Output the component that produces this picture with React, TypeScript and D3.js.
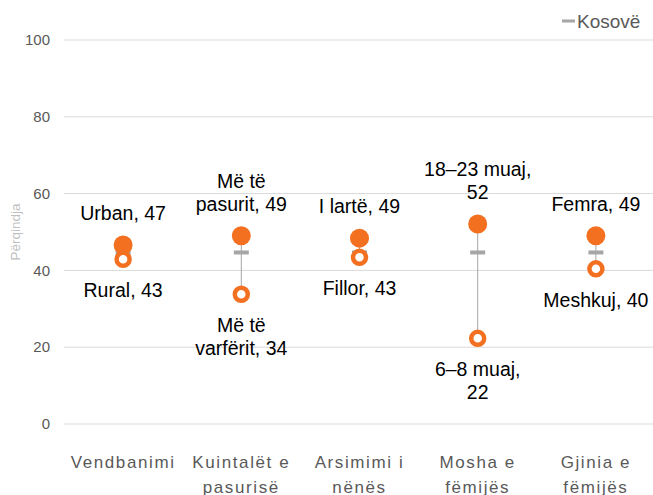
import React from "react";
import * as d3 from "d3";

const categories = [
  "Vendbanimi",
  "Kuintalët e pasurisë",
  "Arsimimi i nënës",
  "Mosha e fëmijës",
  "Gjinia e fëmijës",
];
const categoryLines = [
  ["Vendbanimi"],
  ["Kuintalët e", "pasurisë"],
  ["Arsimimi i", "nënës"],
  ["Mosha e", "fëmijës"],
  ["Gjinia e", "fëmijës"],
];
const highValues = [46.6, 49.0, 48.4, 52.1, 49.0];
const lowValues = [42.9, 33.8, 43.4, 22.3, 40.4];
const kosovoValues = [44.8, 44.8, 44.8, 44.8, 44.8];
const highLabels = [["Urban, 47"], ["Më të", "pasurit, 49"], ["I lartë, 49"], ["18–23 muaj,", "52"], ["Femra, 49"]];
const lowLabels = [["Rural, 43"], ["Më të", "varfërit, 34"], ["Fillor, 43"], ["6–8 muaj,", "22"], ["Meshkuj, 40"]];
const yTicks = [0, 20, 40, 60, 80, 100];

const W = 653;
const H = 495;
const ORANGE = "#F37021";
const GRAY = "#A6A6A6";

export default function App() {
  const x = d3.scaleBand<string>().domain(categories).range([64, 655]);
  const y = d3.scaleLinear().domain([0, 100]).range([424, 40]);
  const cx = (c: string) => (x(c) as number) + x.bandwidth() / 2;
  const lineH = 23;
  const labelFont = "'Liberation Sans', Arial, sans-serif";

  return (
    <svg width={W} height={H} style={{ position: "absolute", left: 0, top: 0, background: "#fff" }}>
      {yTicks.map((t) => (
        <g key={t}>
          <line x1={64} x2={653} y1={y(t)} y2={y(t)} stroke="#D9D9D9" strokeWidth={1} />
          <text x={50} y={y(t)} dy="0.35em" textAnchor="end" fontSize={15} fill="#595959" fontFamily={labelFont}>
            {t}
          </text>
        </g>
      ))}
      <text
        transform={`translate(20,232) rotate(-90)`}
        textAnchor="middle"
        fontSize={13.5}
        fill="#BFBFBF"
        fontFamily={labelFont}
      >
        Përqindja
      </text>
      {/* legend */}
      <rect x={562} y={19.5} width={13} height={3} fill={GRAY} />
      <text x={577} y={21} dy="0.35em" fontSize={19} fill="#595959" fontFamily={labelFont}>
        Kosovë
      </text>
      {categories.map((c, i) => {
        const px = cx(c);
        const yh = y(highValues[i]);
        const yl = y(lowValues[i]);
        const yk = y(kosovoValues[i]);
        const hl = highLabels[i];
        const ll = lowLabels[i];
        return (
          <g key={c}>
            <line x1={px} x2={px} y1={yh} y2={yl} stroke={GRAY} strokeWidth={1} />
            <rect x={px - 7.5} y={yk - 1.5} width={15} height={4} fill={GRAY} />
            <circle cx={px} cy={yh} r={9.5} fill={ORANGE} />
            <circle cx={px} cy={yl} r={6.5} fill="#fff" stroke={ORANGE} strokeWidth={4.5} />
            {hl.map((t, j) => (
              <text
                key={"h" + j}
                x={px}
                y={yh - 32 - (hl.length - 1 - j) * lineH}
                dy="0.35em"
                textAnchor="middle"
                fontSize={19.5}
                fill="#000"
                fontFamily={labelFont}
              >
                {t}
              </text>
            ))}
            {ll.map((t, j) => (
              <text
                key={"l" + j}
                x={px}
                y={yl + 31 + j * lineH}
                dy="0.35em"
                textAnchor="middle"
                fontSize={19.5}
                fill="#000"
                fontFamily={labelFont}
              >
                {t}
              </text>
            ))}
            {categoryLines[i].map((t, j) => (
              <text
                key={"c" + j}
                x={px}
                y={462 + j * 25}
                dy="0.35em"
                textAnchor="middle"
                fontSize={17}
                letterSpacing={1.6}
                fill="#595959"
                fontFamily={labelFont}
              >
                {t}
              </text>
            ))}
          </g>
        );
      })}
    </svg>
  );
}
